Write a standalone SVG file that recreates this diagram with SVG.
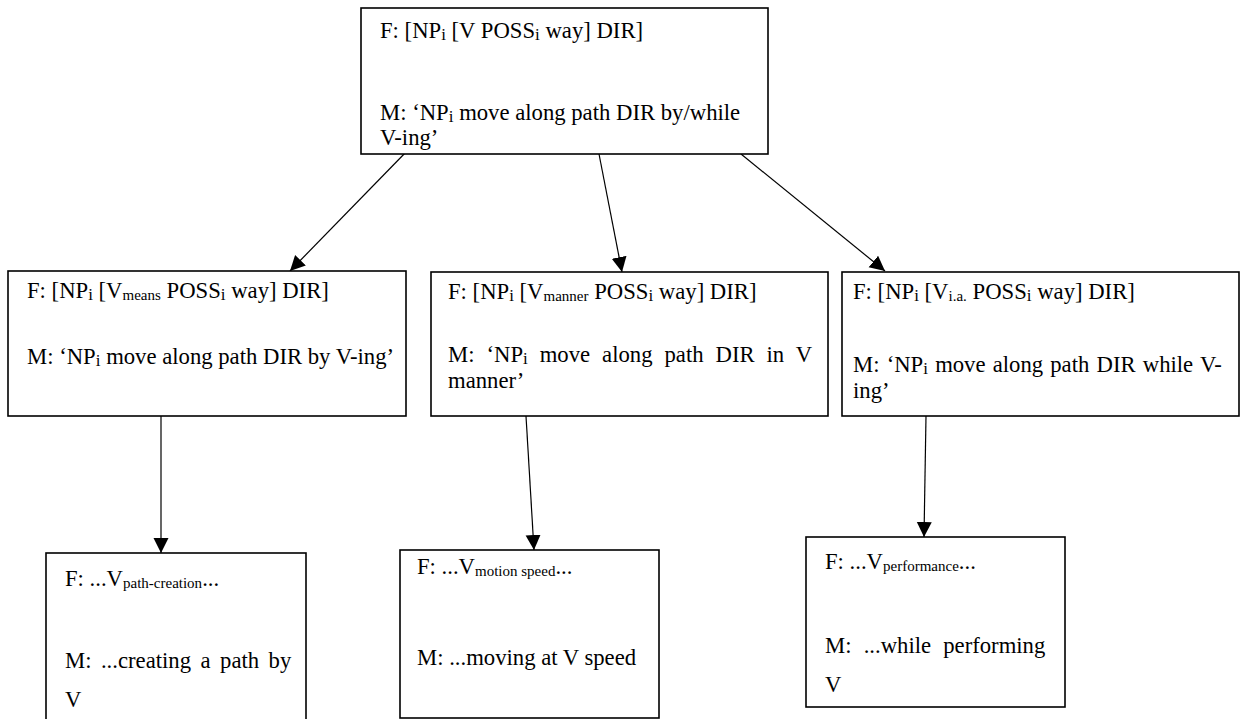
<svg xmlns="http://www.w3.org/2000/svg" width="1244" height="719" viewBox="0 0 1244 719">
<style>
.box{fill:#fff;stroke:#000;stroke-width:1.6}
.t{font-family:"Liberation Serif","Times New Roman",serif;font-size:22.7px;fill:#000}
.s{font-size:15px}
.si{font-size:17px}
.conn line{stroke:#000;stroke-width:1.2;marker-end:url(#ah)}
</style>
<defs>
<marker id="ah" markerUnits="userSpaceOnUse" markerWidth="16" markerHeight="16" refX="15" refY="7.5" orient="auto">
<path d="M0,0 L15,7.5 L0,15 Z" fill="#000"/>
</marker>
</defs>
<g id="connectors" class="conn">
<line x1="408" y1="150" x2="290" y2="271"/>
<line x1="599" y1="154" x2="622" y2="272"/>
<line x1="741" y1="154" x2="885" y2="271"/>
<line x1="161" y1="413" x2="161" y2="553"/>
<line x1="526" y1="416" x2="534" y2="550"/>
<line x1="926" y1="416" x2="924" y2="537"/>
</g>
<g id="top">
<rect class="box" x="361" y="8" width="407" height="146"/>
<text class="t" x="380" y="38">F: [NP<tspan class="si" dy="2">i</tspan><tspan dy="-2"> [V POSS</tspan><tspan class="si" dy="2">i</tspan><tspan dy="-2"> way] DIR]</tspan></text>
<text class="t" x="380" y="120">M: ‘NP<tspan class="si" dy="2">i</tspan><tspan dy="-2"> move along path DIR by/while</tspan></text>
<text class="t" x="380" y="145">V-ing’</text>
</g>
<g id="means">
<rect class="box" x="8" y="271" width="398" height="145"/>
<text class="t" x="27" y="298">F: [NP<tspan class="si" dy="2">i</tspan><tspan dy="-2"> [V</tspan><tspan class="s" dy="2">means</tspan><tspan dy="-2"> POSS</tspan><tspan class="si" dy="2">i</tspan><tspan dy="-2"> way] DIR]</tspan></text>
<text class="t" x="27" y="364">M: ‘NP<tspan class="si" dy="2">i</tspan><tspan dy="-2"> move along path DIR by V-ing’</tspan></text>
</g>
<g id="manner">
<rect class="box" x="431" y="272" width="397" height="144"/>
<text class="t" x="448" y="299">F: [NP<tspan class="si" dy="2">i</tspan><tspan dy="-2"> [V</tspan><tspan class="s" dy="2">manner</tspan><tspan dy="-2"> POSS</tspan><tspan class="si" dy="2">i</tspan><tspan dy="-2"> way] DIR]</tspan></text>
<text class="t" x="448" y="362" word-spacing="6.3">M: ‘NP<tspan class="si" dy="2">i</tspan><tspan dy="-2"> move along path DIR in V</tspan></text>
<text class="t" x="448" y="388">manner’</text>
</g>
<g id="ia">
<rect class="box" x="842" y="272" width="397" height="144"/>
<text class="t" x="853" y="299">F: [NP<tspan class="si" dy="2">i</tspan><tspan dy="-2"> [V</tspan><tspan class="s" dy="2">i.a.</tspan><tspan dy="-2"> POSS</tspan><tspan class="si" dy="2">i</tspan><tspan dy="-2"> way] DIR]</tspan></text>
<text class="t" x="853" y="372" word-spacing="1.5">M: ‘NP<tspan class="si" dy="2">i</tspan><tspan dy="-2"> move along path DIR while V-</tspan></text>
<text class="t" x="853" y="398">ing’</text>
</g>
<g id="path-creation">
<rect class="box" x="46" y="553" width="260" height="190"/>
<text class="t" x="65" y="586">F: ...V<tspan class="s" dy="2">path-creation</tspan><tspan dy="-2">...</tspan></text>
<text class="t" x="65" y="668" word-spacing="3.8">M: ...creating a path by</text>
<text class="t" x="65" y="707">V</text>
</g>
<g id="motion-speed">
<rect class="box" x="400" y="550" width="259" height="168"/>
<text class="t" x="417" y="574">F: ...V<tspan class="s" dy="2">motion speed</tspan><tspan dy="-2">...</tspan></text>
<text class="t" x="417" y="665">M: ...moving at V speed</text>
</g>
<g id="performance">
<rect class="box" x="806" y="537" width="259" height="170"/>
<text class="t" x="825" y="569">F: ...V<tspan class="s" dy="2">performance</tspan><tspan dy="-2">...</tspan></text>
<text class="t" x="825" y="653" word-spacing="6.5">M: ...while performing</text>
<text class="t" x="825" y="692">V</text>
</g>
</svg>
